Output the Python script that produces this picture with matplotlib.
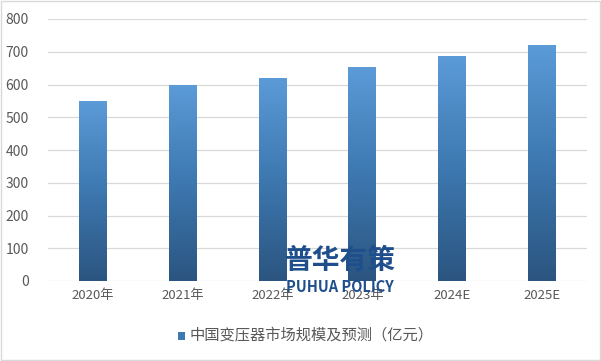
import numpy as np
import matplotlib.pyplot as plt
from matplotlib.colors import LinearSegmentedColormap
from matplotlib.patches import Rectangle

plt.rcParams['font.family'] = ['Noto Sans CJK SC', 'DejaVu Sans']

# data
years = ['2020年', '2021年', '2022年', '2023年', '2024E', '2025E']
values = [550, 600, 620, 652, 686, 722]
series_name = '中国变压器市场规模及预测（亿元）'

grad = LinearSegmentedColormap.from_list('bar', ['#2b5580', '#3d78b0', '#5b9bd8'])

fig = plt.figure(figsize=(6.01, 3.61), dpi=100)
ax = fig.add_axes([48/601, 1-281/361, 539/601, 262/361])

x = np.arange(len(years))
bars = ax.bar(x, values, width=0.31, color='none', zorder=2)
g = np.linspace(0, 1, 256).reshape(-1, 1)
for b in bars:
    x0, w, h = b.get_x(), b.get_width(), b.get_height()
    im = ax.imshow(g, cmap=grad, aspect='auto', origin='lower',
                   extent=[x0, x0 + w, 0, h], zorder=2)
    im.set_clip_path(b)

ax.set_xlim(-0.5, len(years) - 0.5)
ax.set_ylim(0, 800)
ax.set_yticks(range(0, 801, 100))
ax.set_xticks(x)
ax.set_xticklabels(years)
ax.grid(axis='y', color='#d9d9d9', lw=0.9, zorder=0)
for s in ax.spines.values():
    s.set_visible(False)
ax.tick_params(length=0, labelsize=9.5, labelcolor='#595959')
ax.tick_params(axis='y', labelsize=10, pad=14)
ax.tick_params(axis='x', pad=6)

# legend
lx, ly = 0.296, 1 - 336/361
fig.patches.append(Rectangle((lx, ly - 0.012), 0.012, 0.022, transform=fig.transFigure,
                             facecolor='#3d78b0', edgecolor='none'))
fig.text(lx + 0.019, ly, series_name, fontsize=11, color='#595959', va='center')

# watermark
fig.text(340/601, 1-261/361, '普华有策', fontsize=20, fontweight='bold', color='#1f4e8c',
         ha='center', va='center', zorder=5)
fig.text(340/601, 1-287/361, 'PUHUA POLICY', fontsize=10.5, fontweight='bold', color='#1f4e8c',
         ha='center', va='center', zorder=5)

fig.patches.append(Rectangle((0.001, 0.002), 0.997, 0.995, transform=fig.transFigure,
                             facecolor='none', edgecolor='#d9d9d9', lw=1))

fig.savefig('out.png', dpi=100)
